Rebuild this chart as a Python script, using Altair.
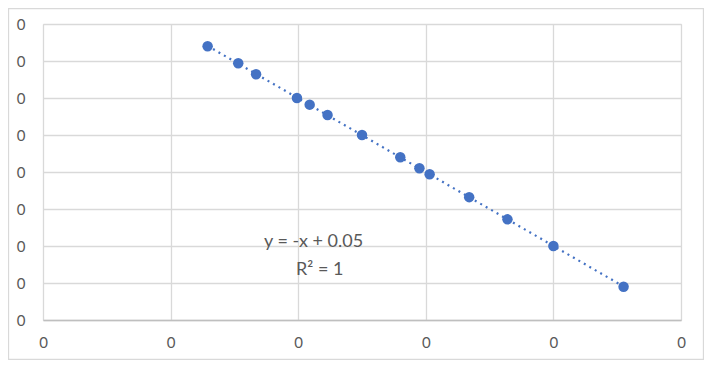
import altair as alt
import pandas as pd

x_vals = [0.0129, 0.0153, 0.0167, 0.0199, 0.0209, 0.0223, 0.0250, 0.0280,
          0.0295, 0.0303, 0.0334, 0.0364, 0.0400, 0.0455]
y_vals = [0.0370, 0.0347, 0.0332, 0.0300, 0.0291, 0.0277, 0.0250, 0.0220,
          0.0205, 0.0197, 0.0166, 0.0136, 0.0100, 0.0045]
x_ticks = [0, 0.01, 0.02, 0.03, 0.04, 0.05]
y_ticks = [0, 0.005, 0.01, 0.015, 0.02, 0.025, 0.03, 0.035, 0.04]
eq_lines = ["y = -x + 0.05", "R² = 1"]

df = pd.DataFrame({"x": x_vals, "y": y_vals})

W, H = 638, 296
PAD = {"left": 35, "top": 16, "right": 23, "bottom": 40}
FONT = "Lato"
GRAY = "#595959"

xs = alt.Scale(domain=[0, 0.05], nice=False, zero=False)
ys = alt.Scale(domain=[0, 0.04], nice=False, zero=False)

x_axis = alt.Axis(values=x_ticks, format=".0f",
                  title=None, grid=True, gridColor="#d9d9d9", gridWidth=1.3,
                  domainColor="#bfbfbf", domainWidth=1.3, ticks=False,
                  labelPadding=15, labelFont=FONT, labelFontSize=15,
                  labelColor=GRAY, labelFlush=False, labelOverlap=False)
y_axis = alt.Axis(values=y_ticks, format=".0f",
                  title=None, grid=True, gridColor="#d9d9d9", gridWidth=1.3,
                  domain=False, ticks=False, labelPadding=18, labelFont=FONT,
                  labelFontSize=15, labelColor=GRAY, labelOverlap=False,
                  labelFlush=False)

base = alt.Chart(df)

points = base.mark_circle(size=110, color="#4472C4", opacity=1).encode(
    x=alt.X("x:Q", scale=xs, axis=x_axis),
    y=alt.Y("y:Q", scale=ys, axis=y_axis),
)

trend = base.transform_regression("x", "y", method="linear").mark_line(
    color="#4472C4", strokeWidth=2.2, strokeDash=[2, 4.3], strokeCap="butt"
).encode(x=alt.X("x:Q", scale=xs, axis=x_axis),
         y=alt.Y("y:Q", scale=ys, axis=y_axis))

one = pd.DataFrame({"a": [0]})
eq1 = alt.Chart(one).mark_text(font=FONT, fontSize=18, color=GRAY,
                               align="left", baseline="middle",
                               text=eq_lines[0]).encode(
    x=alt.value(221), y=alt.value(218))
eq2 = alt.Chart(one).mark_text(font=FONT, fontSize=18, color=GRAY,
                               align="left", baseline="middle",
                               text=eq_lines[1]).encode(
    x=alt.value(253), y=alt.value(246))

border = alt.Chart(one).mark_rect(
    fill=None, stroke="#d9d9d9", strokeWidth=1.3
).encode(x=alt.value(-34.5), x2=alt.value(W + 22.5),
         y=alt.value(-15.5), y2=alt.value(H + 39.5))

chart = alt.layer(border, trend, points, eq1, eq2).properties(
    width=W, height=H, padding=PAD,
    autosize=alt.AutoSizeParams(type="none"),
).resolve_scale(x="shared", y="shared").configure_view(stroke=None).configure(background="white")

chart.save("out.html", embed_options={"renderer": "svg", "actions": False})
